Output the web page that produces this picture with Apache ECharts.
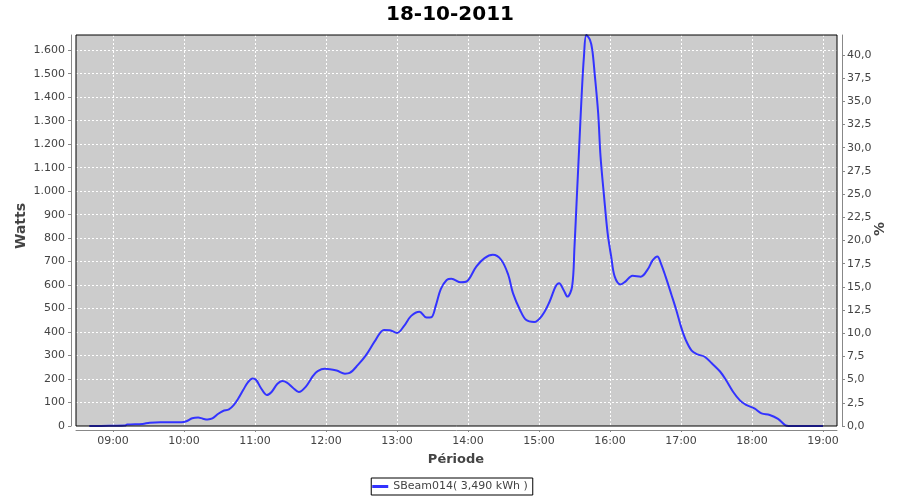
<!DOCTYPE html>
<html>
<head>
<meta charset="utf-8">
<script src="https://cdn.jsdelivr.net/npm/echarts@6/dist/echarts.min.js"></script>
<style>
html,body{margin:0;padding:0;background:#fff;}
#c{width:900px;height:500px;}
</style>
</head>
<body>
<div id="c"></div>
<script>
const chartTitle = '18-10-2011';
const seriesName = 'SBeam014( 3,490 kWh )';
const times = ['08:40','08:50','09:00','09:10','09:12','09:25','09:31','09:40','09:50','09:58','10:02','10:07','10:12','10:16','10:20','10:24','10:29','10:33','10:38','10:42','10:46','10:50','10:54','10:58','11:01','11:05','11:10','11:14','11:19','11:23','11:27','11:32','11:37','11:43','11:49','11:53','11:59','12:09','12:16','12:20','12:27','12:34','12:42','12:49','12:54','13:00','13:06','13:12','13:19','13:25','13:29','13:33','13:37','13:42','13:46','13:54','13:59','14:07','14:14','14:21','14:28','14:34','14:38','14:44','14:49','14:56','15:03','15:09','15:14','15:17','15:21','15:24','15:28','15:30','15:32','15:34','15:36','15:38','15:40','15:43','15:45','15:47','15:50','15:52','15:55','15:58','16:01','16:04','16:09','16:13','16:19','16:26','16:32','16:36','16:40','16:43','16:47','16:52','16:56','17:00','17:04','17:09','17:14','17:20','17:26','17:33','17:38','17:44','17:50','17:55','18:02','18:08','18:15','18:22','18:28','18:31','18:45','19:00'];
const watts = [0,0,1,2,6,9,14,16,16,16,20,33,36,31,28,32,52,64,71,89,118,153,186,202,196,162,132,145,180,192,185,163,145,168,213,234,244,236,223,226,260,303,367,409,408,396,426,469,487,462,463,516,583,622,627,612,616,679,715,729,708,644,566,494,452,443,473,530,594,608,577,551,594,764,977,1190,1404,1574,1665,1645,1603,1503,1333,1148,977,821,722,636,603,615,640,636,668,705,722,693,636,558,494,423,367,321,305,295,267,232,196,146,108,90,75,54,47,30,4,0,0,0];
const leftTicks = {min: 0, max: 1665, interval: 100};
const rightTicks = {min: 0, max: 42.15, interval: 2.5};

function ts(hm){ const p = hm.split(':'); return new Date(2011, 9, 18, +p[0], +p[1], +(p[2]||0)).getTime(); }
const data = times.map((t,i)=>[ts(t), watts[i]]);
const pad2 = n => (n<10?'0':'')+n;
const font = 'DejaVu Sans';
const gridDash = {color: '#ffffff', type: [2,2], width: 1};

const chart = echarts.init(document.getElementById('c'), null, {renderer:'canvas'});
chart.setOption({
  animation: false,
  backgroundColor: '#ffffff',
  textStyle: {fontFamily: font},
  grid: {left: 76, right: 63, top: 35, bottom: 74, show: true, backgroundColor: '#cccccc', borderColor: '#cccccc', borderWidth: 0, containLabel: false},
  legend: {
    left: 'center', top: 478, padding: [3, 5, 3, 1], borderColor: '#000', borderWidth: 1, backgroundColor: '#fff',
    itemWidth: 16, itemHeight: 3, icon: 'rect', itemGap: 5,
    textStyle: {fontFamily: font, fontSize: 11, color: '#444'},
    data: [{name: seriesName}]
  },
  xAxis: {
    type: 'time',
    min: ts('08:28:45'), max: ts('19:11:50'),
    minInterval: 3600000, maxInterval: 3600000,
    offset: 4,
    axisLine: {show: true, onZero: false, lineStyle: {color: '#888', width: 1}},
    axisTick: {show: true, length: 2, lineStyle: {color: '#888'}},
    axisLabel: {fontFamily: font, fontSize: 11, color: '#444', margin: 6, hideOverlap: false,
      formatter: v => { const d = new Date(v); return pad2(d.getHours())+':'+pad2(d.getMinutes()); }},
    splitLine: {show: true, showMinLine: false, showMaxLine: false, lineStyle: gridDash}
  },
  yAxis: [{
    type: 'value', position: 'left', offset: 5,
    min: leftTicks.min, max: leftTicks.max, interval: leftTicks.interval,
    axisLine: {show: true, lineStyle: {color: '#888'}},
    axisTick: {show: true, length: 3, lineStyle: {color: '#888'}},
    axisLabel: {fontFamily: font, fontSize: 11, color: '#444', margin: 6, showMaxLabel: false,
      formatter: v => String(Math.round(v)).replace(/\B(?=(\d{3})+(?!\d))/g, '.')},
    splitLine: {show: true, showMinLine: false, showMaxLine: false, lineStyle: gridDash}
  },{
    type: 'value', position: 'right', offset: 5,
    min: rightTicks.min, max: rightTicks.max, interval: rightTicks.interval,
    axisLine: {show: true, lineStyle: {color: '#888'}},
    axisTick: {show: true, length: 3, lineStyle: {color: '#888'}},
    axisLabel: {fontFamily: font, fontSize: 11, color: '#444', margin: 5, showMaxLabel: false,
      formatter: v => v.toFixed(1).replace('.', ',')},
    splitLine: {show: false}
  }],
  series: [{
    name: seriesName, type: 'line', yAxisIndex: 0, data: data,
    showSymbol: false, smooth: 0.35,
    lineStyle: {color: '#3333ff', width: 2}, itemStyle: {color: '#3333ff'}
  }],
  graphic: [
    {type: 'rect', z: 100, silent: true, shape: {x: 76, y: 35, width: 761, height: 391}, style: {fill: null, stroke: '#000', lineWidth: 1}},
    {type: 'text', x: 450, y: 15, style: {text: chartTitle, font: 'bold 20px "DejaVu Sans"', fill: '#000', textAlign: 'center', textVerticalAlign: 'middle'}},
    {type: 'text', x: 21, y: 226, rotation: Math.PI/2, style: {text: 'Watts', font: 'bold 14px "DejaVu Sans"', fill: '#444', textAlign: 'center', textVerticalAlign: 'middle'}},
    {type: 'text', x: 880, y: 229, rotation: Math.PI/2, style: {text: '%', font: 'bold 14px "DejaVu Sans"', fill: '#444', textAlign: 'center', textVerticalAlign: 'middle'}},
    {type: 'text', x: 456, y: 460, style: {text: 'Période', font: 'bold 13px "DejaVu Sans"', fill: '#444', textAlign: 'center', textVerticalAlign: 'middle'}}
  ]
});
</script>
</body>
</html>
